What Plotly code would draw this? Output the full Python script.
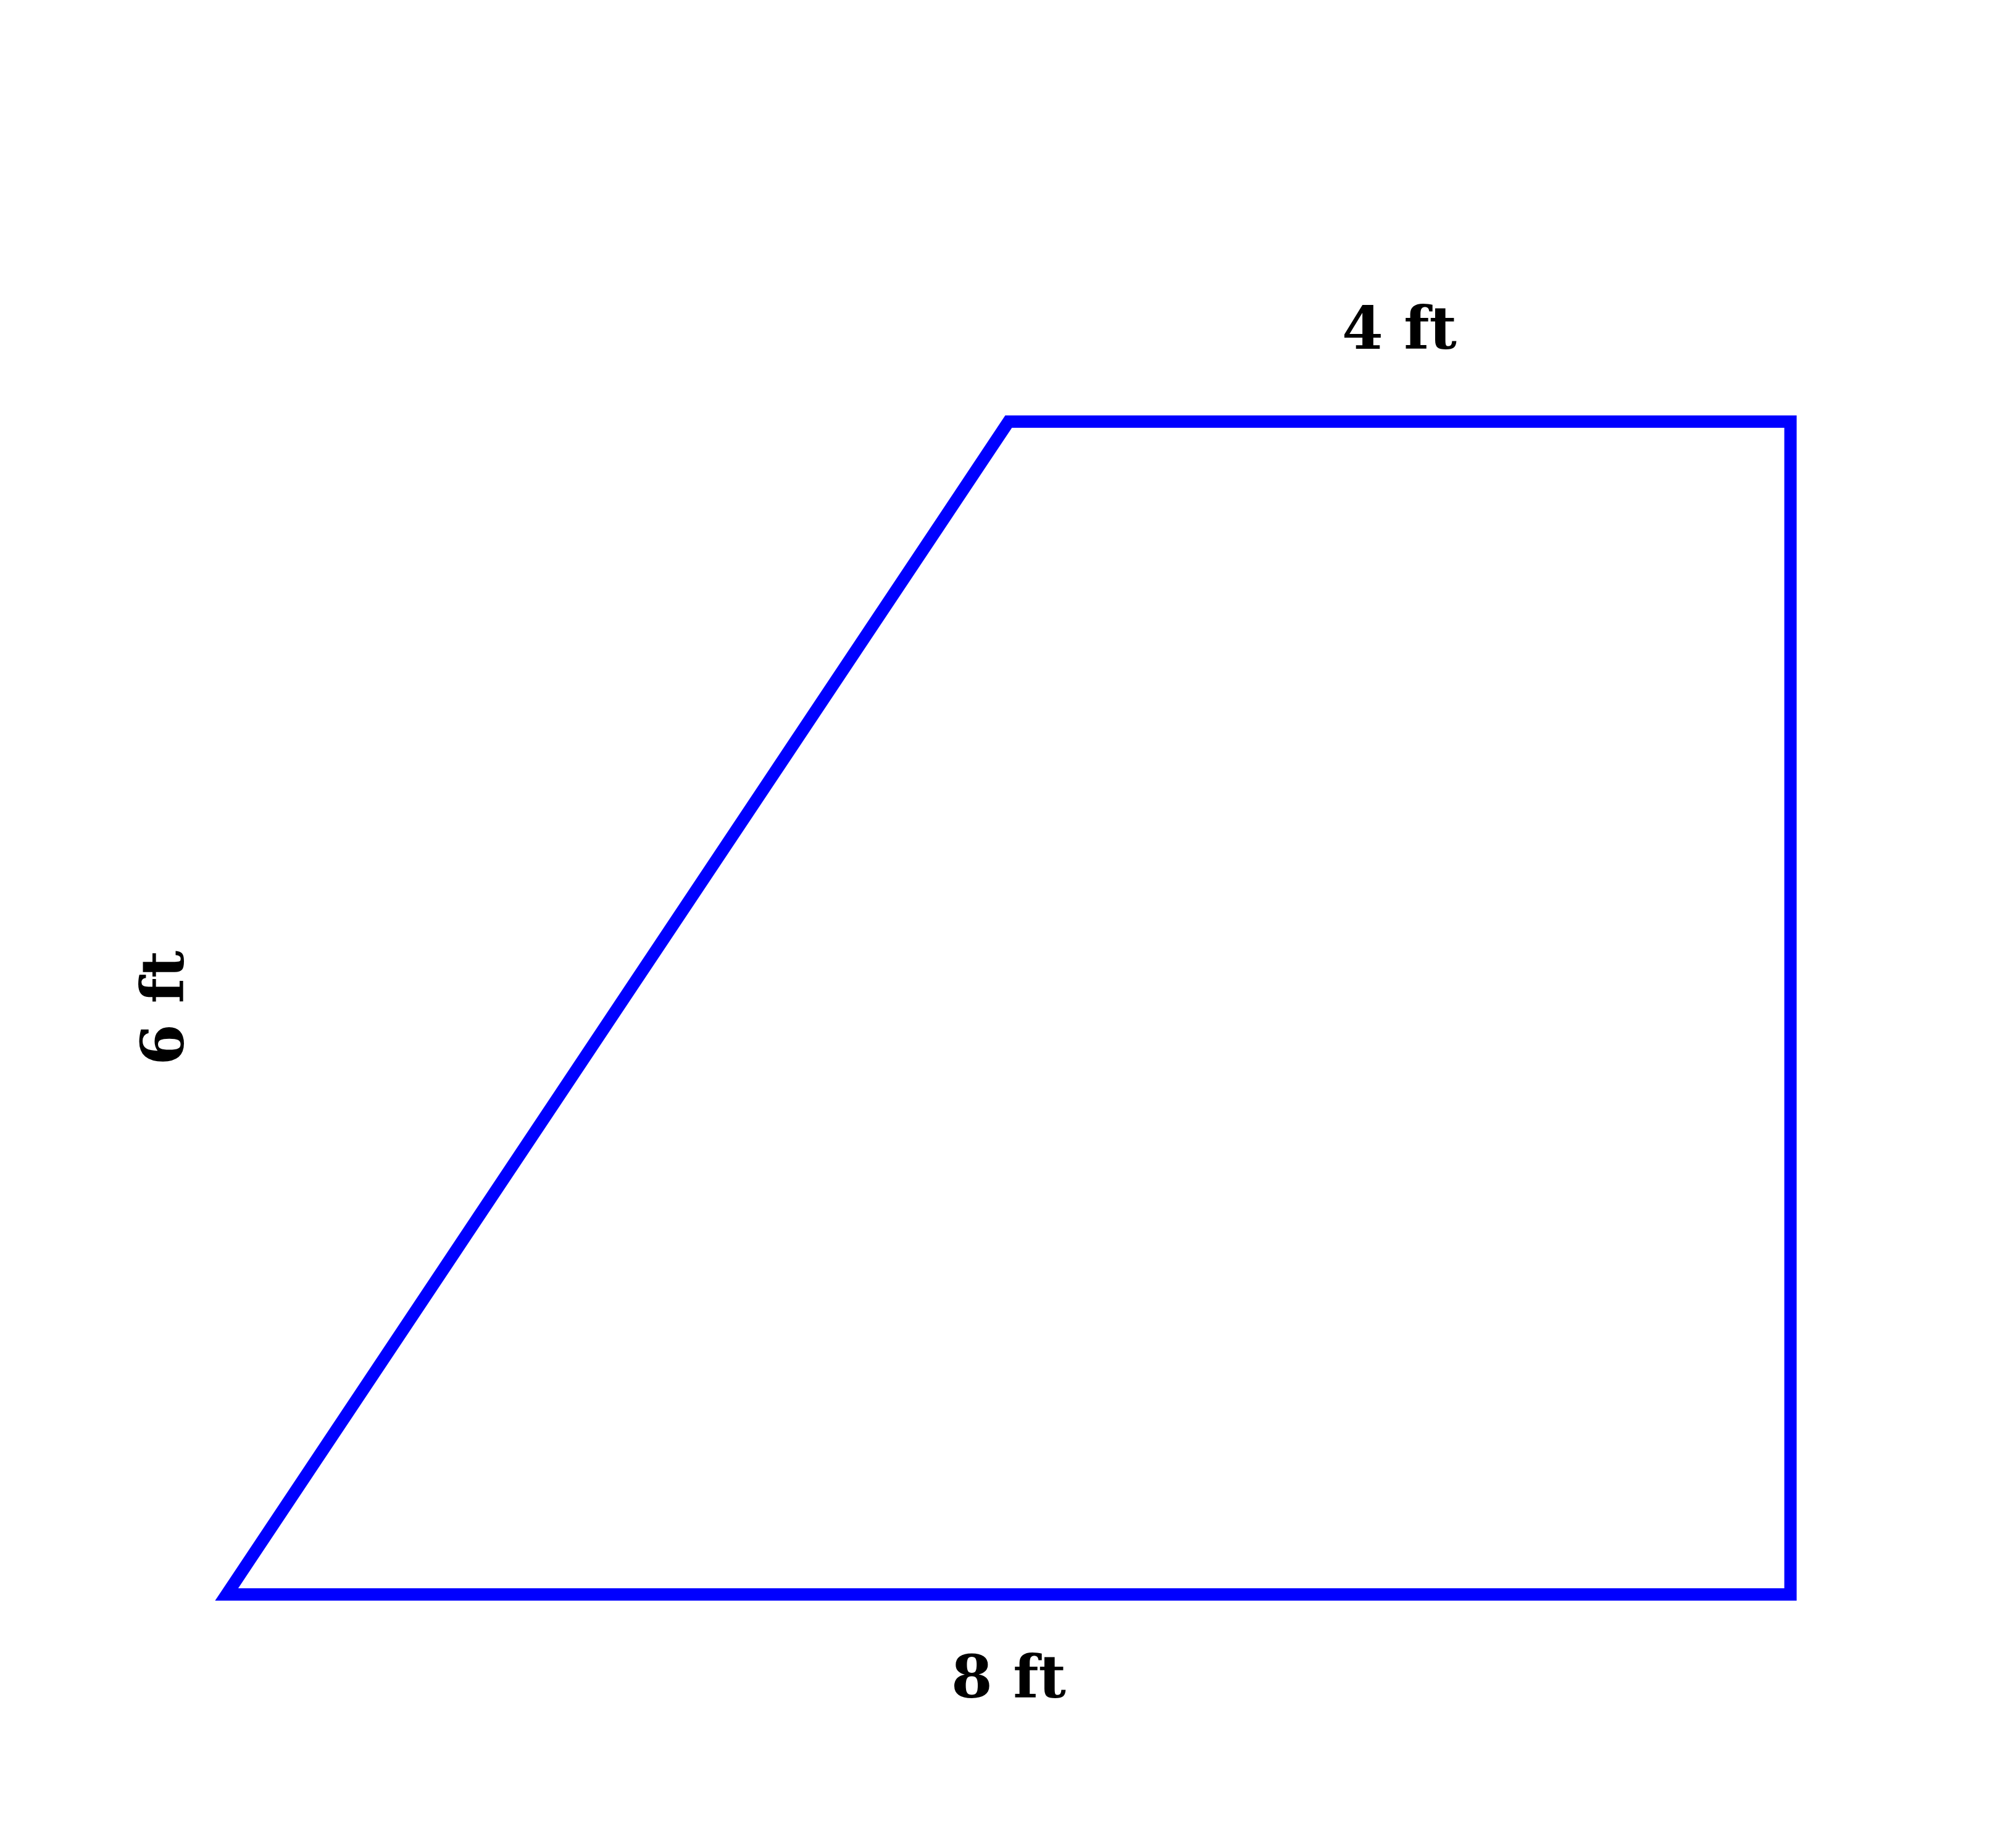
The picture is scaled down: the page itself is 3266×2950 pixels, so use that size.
import plotly.graph_objects as go

# vertices of the trapezoid (ft)
corner_x = [0, 4, 8, 8]
corner_y = [0, 6, 6, 0]

# side labels
label_text = ["4 ft", "8 ft", "6 ft"]
label_x = [6, 4, -0.33]
label_y = [6.48, -0.42, 3]
label_angle = [0, 0, -90]

path = "M " + " L ".join(f"{x},{y}" for x, y in zip(corner_x, corner_y)) + " Z"

fig = go.Figure()
fig.add_shape(type="path", path=path, xref="x", yref="y",
              line=dict(color="#0000ff", width=20), layer="above")

for t, x, y, a in zip(label_text, label_x, label_y, label_angle):
    fig.add_annotation(x=x, y=y, text=f"<b>{t}</b>", showarrow=False, textangle=a,
                       font=dict(family="DejaVu Serif", size=96, color="black"),
                       xanchor="center", yanchor="middle")

# page body adds an 8px offset, ranges shifted to compensate
fig.update_xaxes(range=[-1.134, 9.179], visible=False)
fig.update_yaxes(range=[-1.184, 8.132], visible=False)
fig.update_layout(
    width=3266, height=2950,
    margin=dict(l=0, r=0, t=0, b=0),
    plot_bgcolor="white", paper_bgcolor="white",
    showlegend=False,
)
fig.write_html("out.html")
